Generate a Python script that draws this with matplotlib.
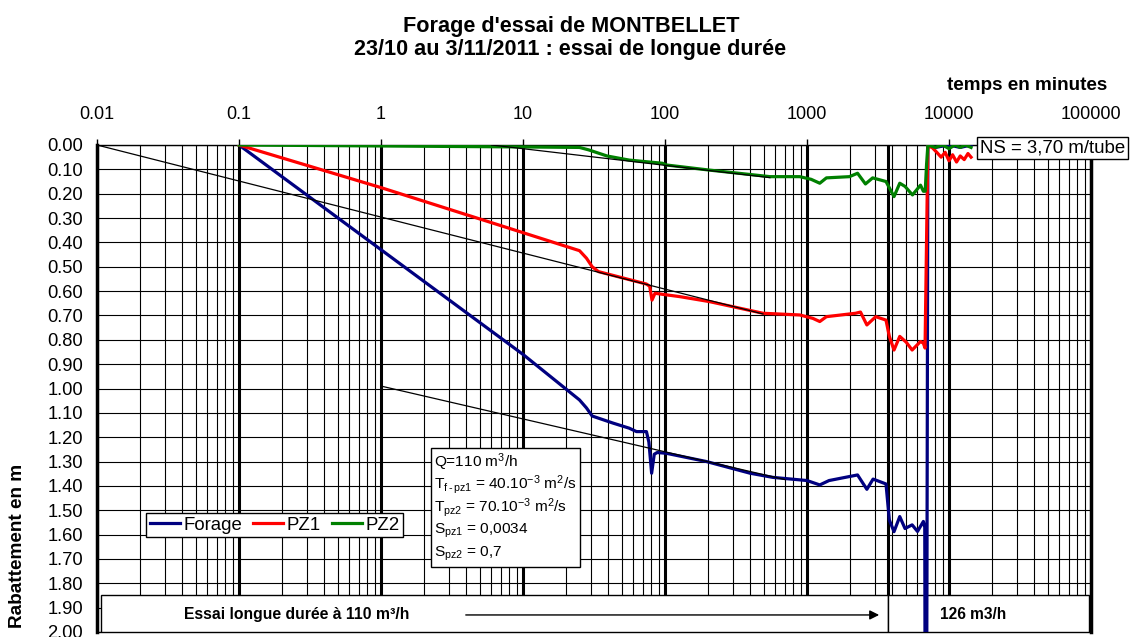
import numpy as np
import matplotlib
matplotlib.use("Agg")
import matplotlib.pyplot as plt
from matplotlib.patches import Rectangle

plt.rcParams['font.family'] = ['Liberation Sans', 'DejaVu Sans']
plt.rcParams['mathtext.fontset'] = 'custom'
plt.rcParams['mathtext.rm'] = 'Liberation Sans'
plt.rcParams['mathtext.it'] = 'Liberation Sans'
plt.rcParams['mathtext.bf'] = 'Liberation Sans:bold'
plt.rcParams['mathtext.default'] = 'regular'

# time in minutes, drawdown in m
t_forage = [0.1, 1, 10, 25, 28, 30.7, 43, 56, 63, 74, 77, 80.5, 84, 88, 102, 196, 398, 575,
            1000, 1230, 1430, 2270, 2640, 2920, 3600, 3800, 4100, 4500, 4900, 5500, 6000,
            6600, 6750, 6800, 6950, 7100, 8000, 10000, 12000, 14300]
s_forage = [0.0, 0.43, 0.86, 1.047, 1.08, 1.113, 1.142, 1.163, 1.177, 1.177, 1.22, 1.348, 1.27, 1.263,
            1.266, 1.30, 1.348, 1.365, 1.378, 1.396, 1.378, 1.355, 1.414, 1.372, 1.392, 1.54,
            1.588, 1.526, 1.575, 1.56, 1.587, 1.546, 1.57, 2.5, 2.5, 0.0, 0.01, 0.0, 0.01, 0.0]

t_pz1 = [0.1, 1, 10, 25, 28, 30.7, 34, 74, 78, 81, 85, 128, 205, 490, 890, 1100, 1230, 1370,
         2200, 2380, 2640, 3050, 3600, 3800, 4100, 4500, 5000, 5500, 6300, 6600, 6780, 7100,
         7600, 8200, 8800, 9400, 10000, 10600, 11300, 12000, 12800, 13600, 14300]
s_pz1 = [0.0, 0.175, 0.36, 0.434, 0.465, 0.50, 0.52, 0.571, 0.58, 0.637, 0.609, 0.623, 0.643,
         0.691, 0.698, 0.712, 0.725, 0.705, 0.691, 0.686, 0.739, 0.705, 0.719, 0.786, 0.842,
         0.786, 0.81, 0.842, 0.807, 0.814, 0.834, 0.005, 0.01, 0.03, 0.05, 0.03, 0.065, 0.04,
         0.07, 0.045, 0.06, 0.035, 0.05]

t_pz2 = [0.1, 1, 10, 25, 29, 39, 56, 96, 102, 205, 548, 890, 1070, 1230, 1370, 1990, 2270,
         2580, 2900, 3600, 4100, 4500, 4900, 5530, 6300, 6600, 6800, 6950, 7100, 8000, 9000,
         10000, 11000, 12000, 13000, 14300]
s_pz2 = [0.0, 0.004, 0.008, 0.01, 0.02, 0.045, 0.062, 0.075, 0.082, 0.103, 0.13, 0.13, 0.141,
         0.157, 0.135, 0.13, 0.116, 0.16, 0.135, 0.15, 0.212, 0.157, 0.17, 0.205, 0.165, 0.19,
         0.19, 0.08, 0.0, 0.01, 0.0, 0.015, 0.0, 0.01, 0.0, 0.01]

# Jacob straight-line fits (start/end)
fit_forage_t = [1, 700]
fit_forage_s = [0.99, 1.374]
fit_pz1_t = [0.01, 490]
fit_pz1_s = [0.0, 0.694]
fit_pz2_t = [6, 548]
fit_pz2_s = [0.0, 0.134]

t_change = 3720
x_ticks = [0.01, 0.1, 1, 10, 100, 1000, 10000, 100000]
x_labels = ['0.01', '0.1', '1', '10', '100', '1000', '10000', '100000']
y_ticks = np.round(np.arange(0, 2.01, 0.1), 2)

W, H = 1133, 637
fig = plt.figure(figsize=(W / 100, H / 100), dpi=100)
ax = fig.add_axes([97 / W, 5 / H, 994 / W, 487 / H])
ax.set_xscale('log')
ax.set_xlim(0.01, 1e5)
ax.set_ylim(2.0, 0.0)

ax.xaxis.tick_top()
ax.set_xticks(x_ticks)
ax.set_xticklabels(x_labels, fontsize=13)
minor = [m * 10.0 ** e for e in range(-2, 5) for m in range(2, 10)]
ax.set_xticks(minor, minor=True)
ax.set_xticklabels([], minor=True)
ax.tick_params(axis='x', which='major', direction='out', length=4, width=1, pad=12)
ax.tick_params(axis='x', which='minor', length=0)
ax.set_yticks(y_ticks)
ax.set_yticklabels([f"{v:.2f}" for v in y_ticks], fontsize=13.2)
ax.tick_params(axis='y', length=0, pad=10)

ax.grid(which='major', axis='x', color='black', lw=2.2, zorder=1)
ax.grid(which='minor', axis='x', color='black', lw=0.8, zorder=1)
ax.grid(which='major', axis='y', color='black', lw=0.8, zorder=1)
ax.set_axisbelow(True)
for side in ['left', 'right']:
    ax.spines[side].set_linewidth(2.5)
for side in ['top', 'bottom']:
    ax.spines[side].set_linewidth(1)

ax.axvline(t_change, color='black', lw=2.2, zorder=2)

ax.plot(t_forage, s_forage, color='#000080', lw=2.3, label='Forage', zorder=4)
ax.plot(t_pz1, s_pz1, color='#ff0000', lw=2.3, label='PZ1', zorder=5)
ax.plot(t_pz2, s_pz2, color='#008000', lw=2.3, label='PZ2', zorder=6)
ax.plot(fit_pz1_t, fit_pz1_s, color='black', lw=0.9, zorder=7)
ax.plot(fit_pz2_t, fit_pz2_s, color='black', lw=0.9, zorder=7)
ax.plot(fit_forage_t, fit_forage_s, color='black', lw=0.9, zorder=7)

# bottom boxes with pumping rates
ax.add_patch(Rectangle((0.01067, 1.848), t_change - 0.01067, 0.152, fc='white', ec='black',
                       lw=1, zorder=3))
ax.add_patch(Rectangle((t_change, 1.848), 96900 - t_change, 0.152, fc='white', ec='black',
                       lw=1, zorder=3))
ax.text(0.041, 1.93, "Essai longue durée à 110 m³/h", fontsize=11.3, fontweight='bold',
        ha='left', va='center', zorder=8)
ax.annotate('', xy=(3370, 1.93), xytext=(3.78, 1.93),
            arrowprops=dict(arrowstyle='-|>', color='black', lw=1, mutation_scale=14), zorder=8)
ax.text(14750, 1.93, "126 m3/h", fontsize=11.2, fontweight='bold', ha='center', va='center',
        zorder=8)

leg = ax.legend(loc='upper left', bbox_to_anchor=(146 / W, 1 - 513 / H), bbox_transform=fig.transFigure,
                ncol=3, fontsize=13.4, frameon=True, fancybox=False, edgecolor='black',
                framealpha=1, handlelength=1.6, handletextpad=0.2, columnspacing=0.6,
                borderpad=0.2, borderaxespad=0)
leg.get_frame().set_linewidth(1)
leg.set_zorder(9)

# parameter box
fig.patches.append(Rectangle((431 / W, 1 - 567 / H), 149 / W, 119 / H, fc='white', ec='black',
                             lw=1, transform=fig.transFigure, zorder=9))
box_lines = [r"Q=110 m$^{3}$/h",
             r"T$_{f\,\text{-}\,pz1}$ = 40.10$^{-3}$ m$^{2}$/s",
             r"T$_{pz2}$ = 70.10$^{-3}$ m$^{2}$/s",
             r"S$_{pz1}$ = 0,0034",
             r"S$_{pz2}$ = 0,7"]
for i, line in enumerate(box_lines):
    fig.text(434 / W, 1 - (462 + i * 23) / H, line, fontsize=11.1, ha='left', va='center',
             zorder=10)

fig.text(980 / W, 1 - 148 / H, "NS = 3,70 m/tube", fontsize=13.4, ha='left', va='center',
         bbox=dict(boxstyle='square,pad=0.15', fc='white', ec='black', lw=1), zorder=10)

fig.text(571 / W, 1 - 32 / H, "Forage d'essai de MONTBELLET", fontsize=15.6, fontweight='bold',
         ha='center', va='baseline')
fig.text(570 / W, 1 - 55 / H, "23/10 au 3/11/2011 : essai de longue durée", fontsize=15.6,
         fontweight='bold', ha='center', va='baseline')
fig.text(1107 / W, 1 - 90 / H, "temps en minutes", fontsize=13.6, fontweight='bold',
         ha='right', va='baseline')
fig.text(18 / W, 1 - 546 / H, "Rabattement en m", fontsize=13.7, fontweight='bold',
         rotation=90, ha='center', va='center')

fig.savefig('out.png', dpi=100)
